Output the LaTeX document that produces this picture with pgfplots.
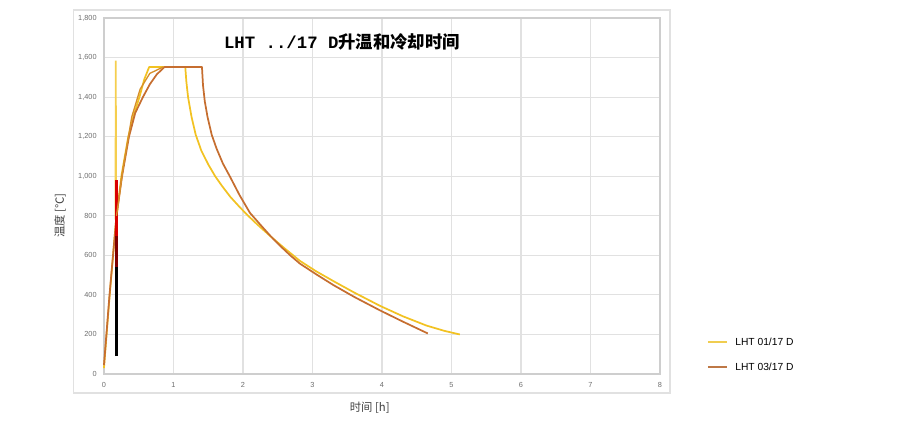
\documentclass[border=0pt]{standalone}
\usepackage{pgfplots}
\pgfplotsset{compat=1.18}
\usepackage{fontspec}
\setmainfont{Liberation Sans}
\newfontfamily\cjk{Noto Sans CJK SC}
\newfontfamily\monofont{Liberation Mono}

\definecolor{cYellow}{RGB}{242,194,34}
\definecolor{cOrange}{RGB}{198,110,48}
\definecolor{legYellow}{RGB}{240,205,80}
\definecolor{legOrange}{RGB}{190,120,70}
\definecolor{gridgray}{RGB}{225,225,225}
\definecolor{labgray}{RGB}{110,110,110}

\begin{document}
\begin{tikzpicture}
\begin{axis}[
    scale only axis,
    width=417pt, height=267pt,
    xmin=0, xmax=8, ymin=0, ymax=1800,
    xtick={0,1,...,8},
    ytick={0,200,...,1800},
    grid=major,
    major grid style={gridgray, line width=0.8pt},
    axis line style={gridgray!80!gray, line width=0.8pt},
    major tick length=0pt,
    tick label style={font=\fontsize{5.5}{6}\selectfont, text=labgray},
    /pgf/number format/assume math mode=true,
    /pgf/number format/1000 sep={,},
    xticklabel style={yshift=-3pt},
    yticklabel style={xshift=-2pt},
    xlabel={\cjk 时间 [h]},
    ylabel={\cjk 温度 [℃]},
    label style={font=\fontsize{8.5}{9}\selectfont, text=black!75},
    xlabel style={at={(rel axis cs:0.478,-0.095)}, anchor=center},
    ylabel style={at={(rel axis cs:-0.079,0.445)}, anchor=center},
    clip=false,
]
% frame round plot and tick labels
\draw[gridgray, line width=0.8pt] (rel axis cs:-0.054,-0.0534) rectangle (rel axis cs:1.018,1.0225);
\coordinate (bbl) at (rel axis cs:-0.187,-0.1376);
\coordinate (btr) at (rel axis cs:1.4317,1.0506);

% LHT 01/17 D
\addplot[cYellow, line width=1.3pt, line join=round] coordinates {
(0,30) (0.08,390) (0.17,760) (0.25,1000) (0.35,1200) (0.43,1310) (0.51,1400) (0.58,1490) (0.65,1552)
(1.17,1552) (1.185,1480) (1.21,1400) (1.26,1300) (1.32,1210) (1.4,1130) (1.5,1060) (1.6,1000) (1.7,950) (1.82,895)
(1.95,845) (2.06,805) (2.2,758) (2.4,695) (2.6,635) (2.82,572) (3.05,520) (3.3,470) (3.6,412) (3.97,345)
(4.3,292) (4.64,245) (4.9,218) (5.12,200)};

% LHT 03/17 D
\addplot[cOrange, line width=1.3pt, line join=round] coordinates {
(0,45) (0.08,400) (0.18,800) (0.26,1000) (0.36,1200) (0.45,1320) (0.56,1400) (0.66,1465) (0.76,1515) (0.87,1552)
(1.41,1552) (1.425,1460) (1.45,1380) (1.49,1300) (1.55,1210) (1.62,1140) (1.71,1065) (1.81,1000) (1.95,905) (2.1,815)
(2.25,755) (2.39,700) (2.55,643) (2.68,600) (2.82,558) (3.05,505) (3.3,450) (3.6,390) (3.97,322) (4.3,265) (4.66,205)};

% spike lines near t = 0.17
\addplot[cYellow!80!white, line width=1.3pt] coordinates {(0.165,780) (0.17,1585) (0.175,780)};
\addplot[black, line width=2.4pt] coordinates {(0.18,90) (0.18,560)};
\addplot[black!50!red, line width=2.4pt] coordinates {(0.18,540) (0.18,720)};
\addplot[red!85!black, line width=2pt] coordinates {(0.18,700) (0.18,980)};
\addplot[cOrange!60!cYellow, line width=1pt] coordinates {(0.18,800) (0.28,1050) (0.4,1300) (0.52,1440) (0.66,1520) (0.85,1552)};

% legend, drawn by hand beside the plot
\draw[legYellow, line width=1.4pt] (rel axis cs:1.0863,0.0899) -- ++(14pt,0pt);
\node[anchor=west, inner sep=0pt, font=\fontsize{7.7}{8}\selectfont] at (rel axis cs:1.135,0.0899) {LHT 01/17 D};
\draw[legOrange, line width=1.4pt] (rel axis cs:1.0863,0.0197) -- ++(14pt,0pt);
\node[anchor=west, inner sep=0pt, font=\fontsize{7.7}{8}\selectfont] at (rel axis cs:1.135,0.0197) {LHT 03/17 D};

\node[anchor=center] at (rel axis cs:0.428,0.933)
    {\fontsize{13}{14}\selectfont\bfseries\monofont LHT ../17 D\cjk 升温和冷却时间};
\end{axis}
\path (bbl) rectangle (btr);
\end{tikzpicture}
\end{document}
